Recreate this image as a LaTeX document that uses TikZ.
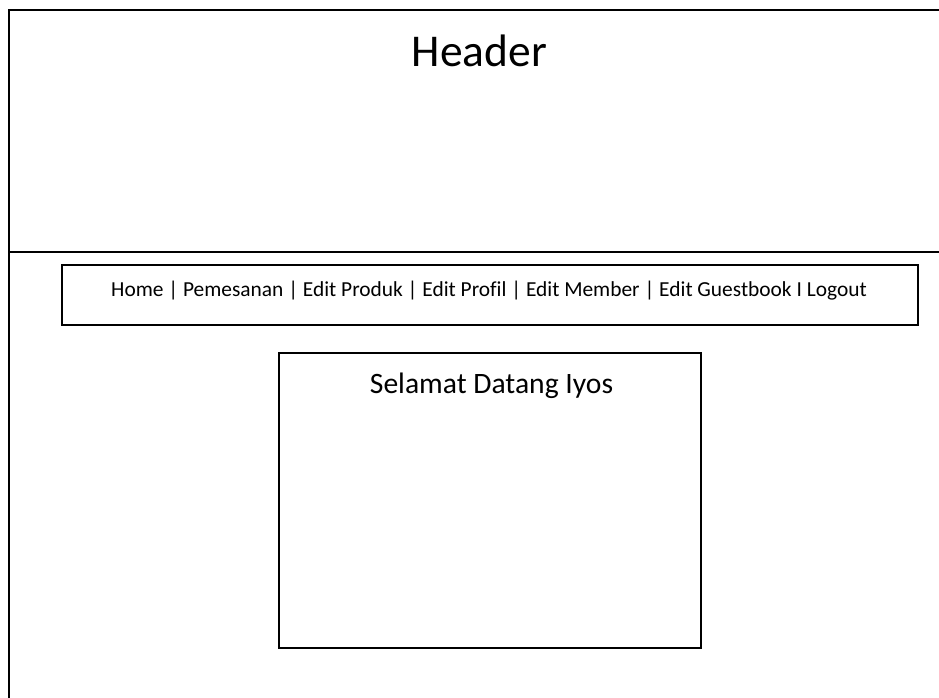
\documentclass[tikz,border=0pt]{standalone}
\usepackage{fontspec}
\setmainfont{Carlito}[Ligatures=NoCommon]
\begin{document}
\begin{tikzpicture}[x=1pt,y=-1pt,
  frame/.style={draw=black,line width=1.6pt},
  panel/.style={draw=black,line width=1.6pt,inner sep=0pt,outer sep=0pt},
  label/.style={inner sep=0pt,anchor=base,text=black}]
  \useasboundingbox (0,0) rectangle (939,698);
  \clip (0,0) rectangle (939,698);
  % page frame and header separator
  \draw[frame] (9,10) rectangle (960,720);
  \coordinate (sepL) at (9,252);
  \coordinate (sepR) at (960,252);
  \draw[frame] (sepL) -- (sepR);
  \node[label,font=\fontsize{45.5}{50}\selectfont] (header) at (479.5,66.5) {Header};
  % navigation bar
  \node[panel,minimum width=856pt,minimum height=60pt] (nav) at (490,295) {};
  \node[label,font=\fontsize{21.4}{25}\selectfont] (navtext) at (489,296.5)
    {Home | Pemesanan | Edit Produk | Edit Profil | Edit Member | Edit Guestbook I Logout};
  % content panel
  \node[panel,minimum width=422pt,minimum height=295pt] (content) at (490,500.5) {};
  \node[label,font=\fontsize{29.6}{34}\selectfont] (welcome) at (491.5,393) {Selamat Datang Iyos};
\end{tikzpicture}
\end{document}
